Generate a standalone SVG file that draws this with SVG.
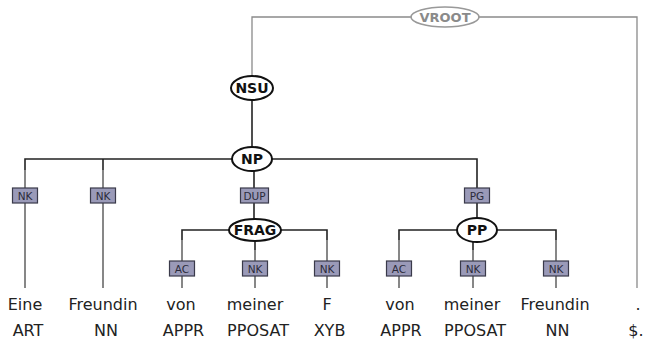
<svg xmlns="http://www.w3.org/2000/svg" width="646" height="342" viewBox="0 0 646 342">
<style>
.bg{fill:#fff}
.e{fill:none;stroke:#222;stroke-width:1.6}
.t{fill:none;stroke:#555;stroke-width:1.4}
.v{fill:none;stroke:#8a8a8a;stroke-width:1.3}
.n{fill:#fff;stroke:#111;stroke-width:2}
.vn{fill:#fff;stroke:#999;stroke-width:1.6}
.nl{font-family:"DejaVu Sans",sans-serif;font-weight:bold;font-size:14px;fill:#111;text-anchor:middle}
.vl{font-family:"DejaVu Sans",sans-serif;font-weight:bold;font-size:13px;fill:#8a8a8a;text-anchor:middle}
.b{fill:#9a9ab8;stroke:#3a3a4a;stroke-width:1.2}
.bl{font-family:"DejaVu Sans",sans-serif;font-size:10.5px;fill:#2a2a3a;text-anchor:middle}
.w{font-family:"DejaVu Sans",sans-serif;font-size:16px;fill:#222;text-anchor:middle}
</style>
<rect class="bg" width="646" height="342"/>
<g id="connectors">
<path class="v" d="M252,76 V17 H637 V288"/>
<path class="e" d="M252,100 V147"/>
<path class="e" d="M25,170 V159 H477 V218"/>
<path class="e" d="M103,159 V170"/>
<path class="e" d="M254,171 V219"/>
<path class="t" d="M25,170 V288 M103,170 V288"/>
<path class="e" d="M182,240 V230 H327 V240"/>
<path class="e" d="M255,241 V250"/>
<path class="t" d="M182,240 V288 M255,250 V288 M327,240 V288"/>
<path class="e" d="M399,240 V230 H556 V240"/>
<path class="e" d="M473,242 V250"/>
<path class="t" d="M399,240 V288 M473,250 V288 M556,240 V288"/>
</g>
<g id="label-NK1"><rect class="b" x="12.5" y="188" width="25" height="15"/><text class="bl" x="25" y="199.5">NK</text></g>
<g id="label-NK2"><rect class="b" x="90.5" y="188" width="25" height="15"/><text class="bl" x="103" y="199.5">NK</text></g>
<g id="label-DUP"><rect class="b" x="240.5" y="188" width="28" height="15"/><text class="bl" x="254.5" y="199.5">DUP</text></g>
<g id="label-PG"><rect class="b" x="464.5" y="188" width="25" height="15"/><text class="bl" x="477" y="199.5">PG</text></g>
<g id="label-AC1"><rect class="b" x="169.5" y="261" width="25" height="15"/><text class="bl" x="182" y="272.5">AC</text></g>
<g id="label-NK3"><rect class="b" x="242.5" y="261" width="25" height="15"/><text class="bl" x="255" y="272.5">NK</text></g>
<g id="label-NK4"><rect class="b" x="314.5" y="261" width="25" height="15"/><text class="bl" x="327" y="272.5">NK</text></g>
<g id="label-AC2"><rect class="b" x="386.5" y="261" width="25" height="15"/><text class="bl" x="399" y="272.5">AC</text></g>
<g id="label-NK5"><rect class="b" x="460.5" y="261" width="25" height="15"/><text class="bl" x="473" y="272.5">NK</text></g>
<g id="label-NK6"><rect class="b" x="543.5" y="261" width="25" height="15"/><text class="bl" x="556" y="272.5">NK</text></g>
<g id="VROOT"><ellipse class="vn" cx="445" cy="17" rx="34" ry="10"/><text class="vl" x="445" y="22">VROOT</text></g>
<g id="NSU"><ellipse class="n" cx="252" cy="88" rx="21" ry="12"/><text class="nl" x="252" y="93">NSU</text></g>
<g id="NP"><ellipse class="n" cx="252" cy="159" rx="20" ry="12"/><text class="nl" x="252" y="164">NP</text></g>
<g id="FRAG"><ellipse class="n" cx="255" cy="230" rx="26" ry="11"/><text class="nl" x="255" y="235">FRAG</text></g>
<g id="PP"><ellipse class="n" cx="477" cy="230" rx="20" ry="12"/><text class="nl" x="477" y="235">PP</text></g>
<g id="t1"><text class="w" x="25" y="310">Eine</text><text class="w" x="28" y="336">ART</text></g>
<g id="t2"><text class="w" x="103" y="310">Freundin</text><text class="w" x="106" y="336">NN</text></g>
<g id="t3"><text class="w" x="181" y="310">von</text><text class="w" x="183.5" y="336">APPR</text></g>
<g id="t4"><text class="w" x="255" y="310">meiner</text><text class="w" x="258" y="336">PPOSAT</text></g>
<g id="t5"><text class="w" x="327" y="310">F</text><text class="w" x="329.5" y="336">XYB</text></g>
<g id="t6"><text class="w" x="400" y="310">von</text><text class="w" x="401" y="336">APPR</text></g>
<g id="t7"><text class="w" x="472" y="310">meiner</text><text class="w" x="475" y="336">PPOSAT</text></g>
<g id="t8"><text class="w" x="555" y="310">Freundin</text><text class="w" x="557.5" y="336">NN</text></g>
<g id="t9"><text class="w" x="638" y="310">.</text><text class="w" x="636" y="336">$.</text></g>
</svg>
